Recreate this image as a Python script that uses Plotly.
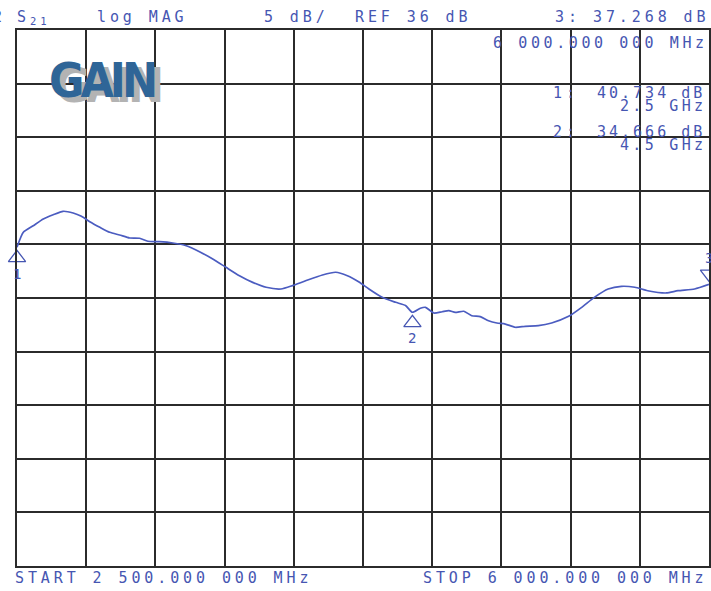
import plotly.graph_objects as go

# ---- data (S21, log MAG) ----
freq_ghz = [2.50, 2.532, 2.582, 2.633, 2.683, 2.733, 2.784, 2.826, 2.868, 2.919,
            2.969, 3.019, 3.07, 3.12, 3.162, 3.221, 3.288, 3.356, 3.423, 3.49,
            3.557, 3.625, 3.692, 3.76, 3.835, 3.893, 3.96, 4.045, 4.112, 4.171,
            4.23, 4.28, 4.347, 4.415, 4.465, 4.50, 4.54, 4.566, 4.608, 4.65,
            4.684, 4.717, 4.76, 4.80, 4.843, 4.885, 4.927, 4.97, 5.02, 5.07,
            5.137, 5.204, 5.29, 5.356, 5.42, 5.49, 5.557, 5.625, 5.69, 5.784,
            5.843, 5.927, 6.00]
gain_db = [40.73, 42.13, 42.74, 43.37, 43.77, 44.09, 43.93, 43.62, 43.12, 42.60,
           42.13, 41.88, 41.60, 41.57, 41.29, 41.25, 41.13, 40.88, 40.32, 39.64,
           38.86, 38.08, 37.46, 37.00, 36.84, 37.15, 37.61, 38.15, 38.40, 38.08,
           37.49, 36.84, 36.06, 35.60, 35.30, 34.67, 35.04, 35.13, 34.60, 34.72,
           34.82, 34.66, 34.76, 34.35, 34.26, 33.88, 33.67, 33.57, 33.27, 33.36,
           33.42, 33.67, 34.29, 35.13, 36.06, 36.84, 37.09, 37.00, 36.68, 36.47,
           36.68, 36.84, 37.27]

marker_ids = ["1", "2", "3"]
marker_freq = [2.5, 4.5, 6.0]
marker_db = [40.734, 34.666, 37.268]

ref_db = 36
db_per_div = 5
f_start, f_stop = 2.5, 6.0

BLUE_TXT = "#4656b2"
BLUE_LINE = "#4b5cc0"
GRID = "#2b2b2b"

W, H = 711, 591
L, R, T, B = 17, 0, 30, 25
PW, PH = W - L - R, H - T - B
px_per_db = PH / (10 * db_per_div)


def px(x):
    return (x - L) / PW


def py(y):
    return (H - B - y) / PH


fig = go.Figure()

fig.add_trace(go.Scatter(
    x=freq_ghz, y=gain_db, mode="lines",
    line=dict(color=BLUE_LINE, width=1.7, shape="spline", smoothing=0.6),
    hoverinfo="skip"))

# marker triangles (apex on the trace for 1,2; above for 3)
tri_off = 10.6 / px_per_db
fig.add_trace(go.Scatter(
    x=marker_freq[:2], y=[v - tri_off for v in marker_db[:2]], mode="markers",
    marker=dict(symbol="triangle-up-open", size=15, color=BLUE_TXT,
                line=dict(width=1.3, color=BLUE_TXT)),
    cliponaxis=False, hoverinfo="skip"))
fig.add_trace(go.Scatter(
    x=[marker_freq[2]], y=[marker_db[2] + tri_off], mode="markers",
    marker=dict(symbol="triangle-down-open", size=15, color=BLUE_TXT,
                line=dict(width=1.3, color=BLUE_TXT)),
    cliponaxis=False, hoverinfo="skip"))

ann = []
for mid, f, v, ys in zip(marker_ids, marker_freq, marker_db, [-27, -26, 26]):
    ann.append(dict(x=f, y=v, xref="x", yref="y", text=mid, showarrow=False,
                    yshift=ys, font=dict(family="DejaVu Sans Mono", size=14, color=BLUE_TXT)))


def sp(t, ls=3.9):
    return '<span style="letter-spacing:%spx">%s</span>' % (ls, t)


tokens = [
    ("2", -9, 17, 3.9),
    ("S<sub>21</sub>", 15, 17, 3.9),
    ("log MAG", 95, 17, 3.9),
    ("5 dB/", 263, 17, 3.9),
    ("REF 36 dB", 354, 17, 3.9),
    ("3:", 555, 17, 3.9),
    ("37.268 dB", 593, 17, 3.9),
    ("6 000.000 000 MHz", 492, 43, 3.6),
    ("1:", 553, 93, 3.9),
    ("40.734 dB", 597, 93, 3.0),
    ("2.5 GHz", 620, 106, 3.3),
    ("2:", 553, 132, 3.9),
    ("34.666 dB", 597, 132, 3.0),
    ("4.5 GHz", 620, 145, 3.3),
    ("START 2 500.000 000 MHz", 13, 578, 3.9),
    ("STOP 6 000.000 000 MHz", 422, 578, 3.9),
]
for t, x, y, ls in tokens:
    ann.append(dict(x=px(x), y=py(y), xref="paper", yref="paper", text=sp(t, ls),
                    xanchor="left", yanchor="middle", showarrow=False,
                    font=dict(family="DejaVu Sans Mono", size=15, color=BLUE_TXT)))

# GAIN logo with grey shadow
LOGO_FONT = "Liberation Sans Narrow, DejaVu Sans Condensed, Roboto Condensed, Roboto, sans-serif"
ann.append(dict(x=px(108), y=py(85), xref="paper", yref="paper",
                text='<span style="letter-spacing:-4px"><b>GAIN</b></span>',
                showarrow=False, xanchor="center", yanchor="middle",
                font=dict(family=LOGO_FONT, size=48, color="#b3b3b3")))
ann.append(dict(x=px(102), y=py(80), xref="paper", yref="paper",
                text='<span style="letter-spacing:-4px"><b>GAIN</b></span>',
                showarrow=False, xanchor="center", yanchor="middle",
                font=dict(family=LOGO_FONT, size=48, color="#2f6597")))

axis_common = dict(showgrid=True, gridcolor=GRID, gridwidth=2, zeroline=False,
                   showticklabels=False, ticks="", showline=True, linecolor=GRID,
                   linewidth=2, mirror=True, fixedrange=True)

fig.update_layout(
    width=W, height=H, margin=dict(l=L, r=R, t=T, b=B),
    paper_bgcolor="white", plot_bgcolor="white", showlegend=False,
    xaxis=dict(range=[f_start, f_stop], tick0=f_start, dtick=(f_stop - f_start) / 10, **axis_common),
    yaxis=dict(range=[ref_db - 5 * db_per_div, ref_db + 5 * db_per_div], tick0=ref_db,
               dtick=db_per_div, **axis_common),
    annotations=ann,
)

fig.write_html("out.html", config={"displayModeBar": False},
               post_script="document.body.style.margin='0';document.body.style.overflow='hidden';")
